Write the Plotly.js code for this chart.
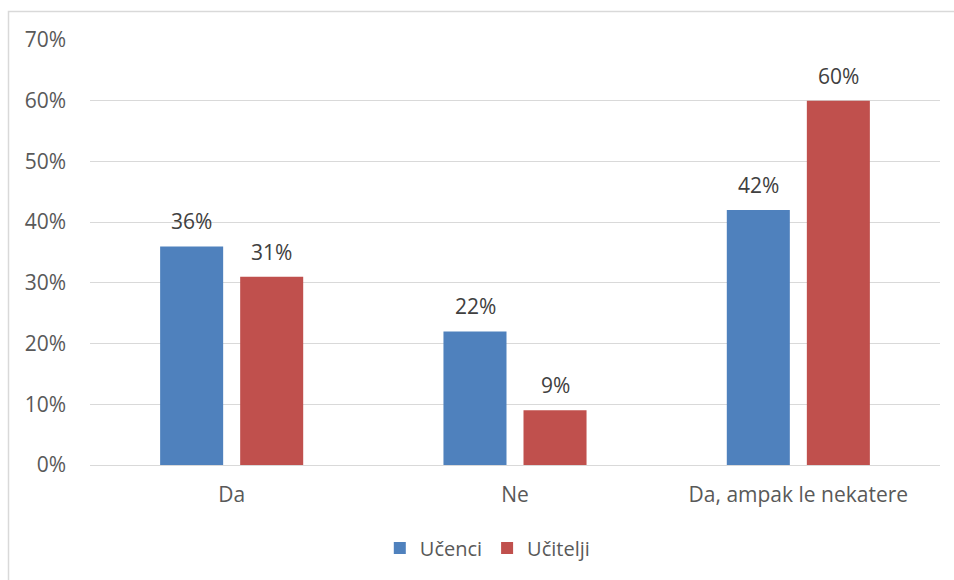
<!DOCTYPE html>
<html>
<head>
<meta charset="utf-8">
<script src="https://cdn.plot.ly/plotly-3.0.1.min.js"></script>
<style>
html,body{margin:0;padding:0;background:#fff;}
#chart{width:954px;height:580px;}
</style>
</head>
<body>
<div id="chart"></div>
<script>
const categories = ["Da", "Ne", "Da, ampak le nekatere"];
const ucenci = [36, 22, 42];
const ucitelji = [31, 9, 60];
const seriesNames = ["Učenci", "Učitelji"];
const yTicks = [0, 10, 20, 30, 40, 50, 60, 70];

const font = "'Open Sans', 'Liberation Sans', sans-serif";
const fs = 21;

const traces = [
  {type: "bar", name: seriesNames[0], x: categories, y: ucenci,
   marker: {color: "#4f81bd"}, hoverinfo: "none"},
  {type: "bar", name: seriesNames[1], x: categories, y: ucitelji,
   marker: {color: "#c0504d"}, hoverinfo: "none"}
];

const annotations = [];
[ucenci, ucitelji].forEach((vals, si) => {
  vals.forEach((v, i) => {
    annotations.push({x: categories[i], y: v, xref: "x", yref: "y",
      text: v + "%", showarrow: false, xshift: si === 0 ? -40 : 40, yshift: 25,
      yanchor: "middle", xanchor: "center",
      font: {size: fs, color: "#404040", family: font}});
  });
});

const layout = {
  width: 954, height: 580,
  margin: {l: 90, r: 14, t: 40, b: 115},
  paper_bgcolor: "#ffffff", plot_bgcolor: "#ffffff",
  font: {family: font, size: fs, color: "#595959"},
  barmode: "group", bargap: 0.435, bargroupgap: 0.2125,
  showlegend: true,
  legend: {orientation: "h", x: 0.468, xanchor: "center", y: -0.195, yanchor: "middle",
           font: {size: 20, color: "#595959", family: font}, itemwidth: 30, traceorder: "normal"},
  xaxis: {showgrid: false, showline: true, linecolor: "#d9d9d9", linewidth: 1,
          ticks: "", tickfont: {size: fs, color: "#595959"}, ticklabelstandoff: 11},
  yaxis: {range: [0, 70], tickvals: yTicks, ticktext: yTicks.map(v => v + "%"),
          showgrid: true, gridcolor: "#d9d9d9", gridwidth: 1, zeroline: false,
          showline: false, ticks: "", tickfont: {size: fs, color: "#595959"}, ticklabelstandoff: 23},
  annotations: annotations,
  shapes: [
    {type: "rect", xref: "paper", yref: "paper",
     x0: (8.5 - 90) / 850, x1: 1.2, y0: -1, y1: (465 - 11.5) / 425,
     line: {color: "#d9d9d9", width: 1.5}, fillcolor: "rgba(0,0,0,0)", layer: "below"}
  ]
};

Plotly.newPlot("chart", traces, layout, {displayModeBar: false, staticPlot: true});
</script>
</body>
</html>
